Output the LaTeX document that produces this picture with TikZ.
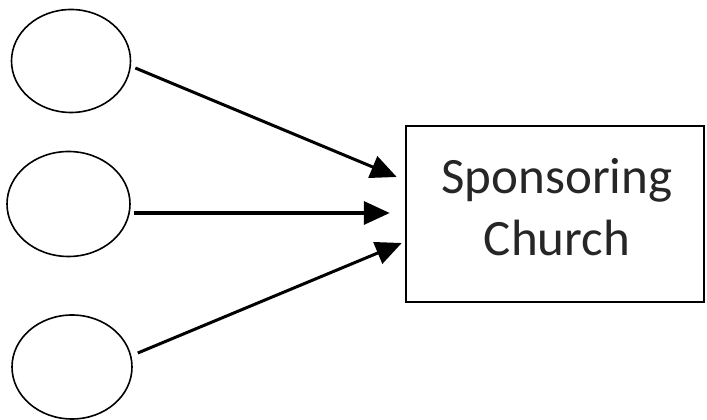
\documentclass[tikz,border=0pt]{standalone}
\usepackage{fontspec}
\setmainfont{Carlito}
\usetikzlibrary{arrows.meta,shapes.geometric}
\begin{document}
\begin{tikzpicture}[x=1pt,y=1pt]
\tikzset{member/.style={draw, ellipse, line width=1.6pt, inner sep=0pt},
  arr/.style={line width=3pt, -{Triangle[length=26pt,width=23pt]}}}
\useasboundingbox (0,0) rectangle (707,420);
\node[member, minimum width=119pt, minimum height=103pt] (e1) at (71,359) {};
\node[member, minimum width=123pt, minimum height=105pt] (e2) at (68.5,216) {};
\node[member, minimum width=120pt, minimum height=104pt] (e3) at (72,53) {};
%
\node[draw, line width=2.5pt, minimum width=298pt, minimum height=176pt] (box) at (555,206) {};
\node[align=center, text=black!85, font=\fontsize{51pt}{62pt}\selectfont] (lbl)
  at ([xshift=2pt,yshift=7pt]box.center) {Sponsoring\\Church};
%
\draw[arr] ([xshift=4pt,yshift=-7pt]e1.east) -- ([xshift=-8pt,yshift=37pt]box.west);
\draw[arr, line width=3.6pt] ([xshift=3pt,yshift=-9pt]e2.east) -- ([xshift=-15pt,yshift=1pt]box.west);
\draw[arr] ([xshift=5pt,yshift=14pt]e3.east) -- ([xshift=-3pt,yshift=-29pt]box.west);
\end{tikzpicture}
\end{document}
